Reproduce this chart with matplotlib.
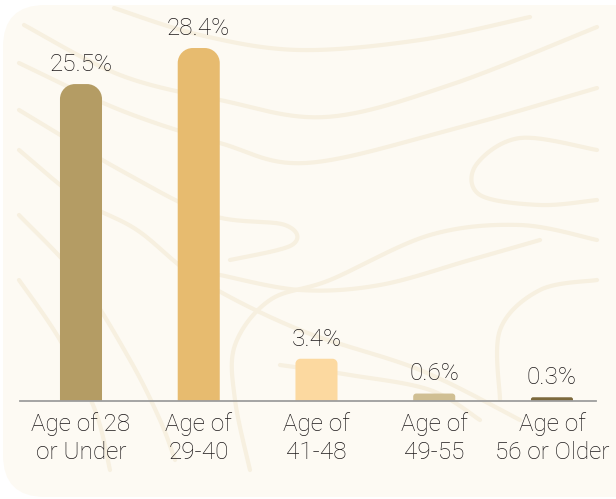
import numpy as np
import matplotlib
matplotlib.use("Agg")
import matplotlib.pyplot as plt
from matplotlib.path import Path
from matplotlib.patches import PathPatch, FancyBboxPatch

# data
categories = ["Age of 28\nor Under", "Age of\n29-40", "Age of\n41-48",
              "Age of\n49-55", "Age of\n56 or Older"]
shares = [25.5, 28.4, 3.4, 0.6, 0.3]

bar_colors = ["#b49c64", "#e7bb6f", "#fcd9a0", "#d0bf93", "#7c693c"]
corner_px = [15, 15, 5, 3, 2]

plt.rcParams["font.family"] = ["Roboto", "DejaVu Sans"]

W, H = 616, 499
fig = plt.figure(figsize=(W / 100, H / 100), dpi=100)
fig.patch.set_facecolor("white")

# background card + decorative waves, drawn in pixel space
bg = fig.add_axes([0, 0, 1, 1], zorder=0)
bg.set_xlim(0, W)
bg.set_ylim(H, 0)
bg.axis("off")
bg.add_patch(FancyBboxPatch((3, 5), 650, 492,
                            boxstyle="round,pad=0,rounding_size=42",
                            fc="#fdfaf3", ec="none"))


def catmull(pts, n=30):
    # simple catmull-rom smoothing through the guide points
    p = np.asarray(pts, float)
    p = np.vstack([p[0], p, p[-1]])
    out = []
    for i in range(1, len(p) - 2):
        p0, p1, p2, p3 = p[i - 1], p[i], p[i + 1], p[i + 2]
        t = np.linspace(0, 1, n)[:, None]
        out.append(0.5 * ((2 * p1) + (-p0 + p2) * t
                          + (2 * p0 - 5 * p1 + 4 * p2 - p3) * t ** 2
                          + (-p0 + 3 * p1 - 3 * p2 + p3) * t ** 3))
    return np.vstack(out)


waves = [
    [(114, 8), (200, 35), (299, 50), (420, 40), (530, 17)],
    [(24, 25), (120, 75), (220, 100), (326, 117), (450, 85), (597, 27)],
    [(19, 63), (120, 110), (220, 143), (306, 163), (450, 130), (597, 88)],
    [(19, 110), (120, 170), (210, 215), (285, 225), (292, 245), (230, 260)],
    [(19, 150), (80, 200), (137, 230), (200, 280), (300, 330), (420, 370), (520, 420)],
    [(19, 215), (80, 280), (130, 360), (160, 420), (175, 460)],
    [(19, 280), (60, 340), (95, 410), (110, 470)],
    [(597, 150), (520, 138), (476, 165), (480, 195), (540, 205), (597, 200)],
    [(597, 240), (520, 225), (430, 235), (330, 280), (270, 300), (235, 345), (235, 400), (250, 470)],
    [(597, 280), (540, 290), (500, 330), (500, 400)],
    [(220, 275), (300, 290), (380, 285), (470, 260), (540, 240)],
    [(280, 365), (350, 375), (430, 390), (480, 420)],
]
for w in waves:
    c = catmull(w)
    bg.plot(c[:, 0], c[:, 1], color="#f7f0e0", lw=3, solid_capstyle="round")

# main chart axes
ax_left, ax_right, ax_top, ax_base = 20, 596, 10, 401
ax = fig.add_axes([ax_left / W, (H - ax_base) / H,
                   (ax_right - ax_left) / W, (ax_base - ax_top) / H], zorder=1)
ax.patch.set_alpha(0)

x = np.arange(len(categories))
ax.set_xlim(-0.518, 4.374)
ax.set_ylim(0, 31.46)

bars = ax.bar(x, shares, width=0.357, color=bar_colors)

px_x = (ax_right - ax_left) / (4.374 + 0.518)
px_y = (ax_base - ax_top) / 31.46
k = 0.5523
for rect, col, r in zip(bars, bar_colors, corner_px):
    x0 = rect.get_x()
    x1 = x0 + rect.get_width()
    h = rect.get_height()
    rx, ry = r / px_x, min(r / px_y, h)
    verts = [(x0, 0), (x0, h - ry),
             (x0, h - ry * (1 - k)), (x0 + rx * (1 - k), h), (x0 + rx, h),
             (x1 - rx, h),
             (x1 - rx * (1 - k), h), (x1, h - ry * (1 - k)), (x1, h - ry),
             (x1, 0), (x0, 0)]
    codes = [Path.MOVETO, Path.LINETO,
             Path.CURVE4, Path.CURVE4, Path.CURVE4,
             Path.LINETO,
             Path.CURVE4, Path.CURVE4, Path.CURVE4,
             Path.LINETO, Path.CLOSEPOLY]
    ax.add_patch(PathPatch(Path(verts, codes), fc=col, ec="none", zorder=2))
    rect.set_visible(False)

    ax.annotate(f"{h}%", (rect.get_x() + rect.get_width() / 2, h),
                xytext=(0, 9.5), textcoords="offset points",
                ha="center", va="baseline", fontsize=17.5, fontweight="light",
                color="#1c1819")

for s in ["top", "right", "left"]:
    ax.spines[s].set_visible(False)
ax.spines["bottom"].set_color("#9d9d9d")
ax.spines["bottom"].set_linewidth(1.3)
ax.spines["bottom"].set_zorder(3)

ax.set_yticks([])
ax.set_xticks(x)
ax.set_xticklabels(categories, fontsize=17.5, fontweight="light",
                   color="#1c1819", linespacing=1.28)
ax.tick_params(axis="x", length=0, pad=8)

fig.savefig("out.png", dpi=100)
